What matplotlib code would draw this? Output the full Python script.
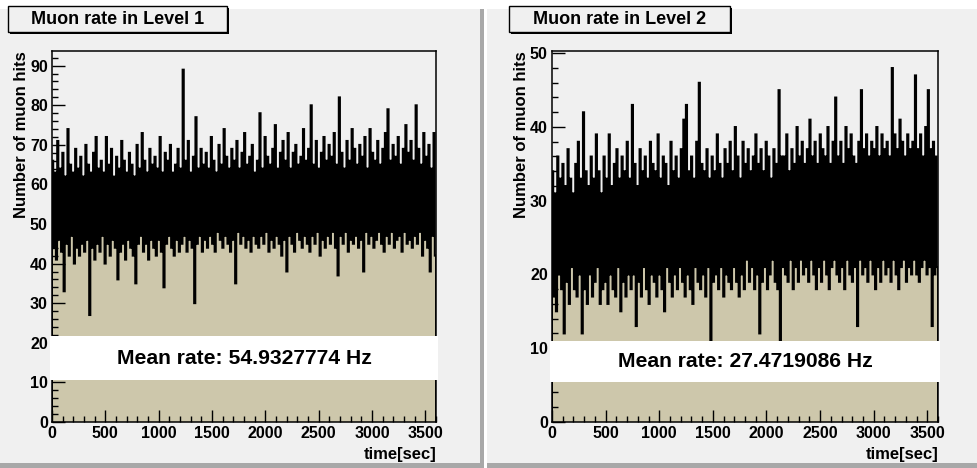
import matplotlib
matplotlib.use('Agg')
import matplotlib.pyplot as plt
from matplotlib.patches import Rectangle
from matplotlib.ticker import MultipleLocator
import numpy as np

plt.rcParams['font.family'] = ['Liberation Sans', 'DejaVu Sans']
plt.rcParams['font.weight'] = 'bold'

# ---------------- data (12 s bins) ----------------
T_MAX = 3600

level1_counts = [
    66, 44, 63, 41, 71, 46, 64, 43, 68, 33, 62, 45, 74, 42, 65, 47, 63, 40, 69, 44,
    64, 42, 67, 45, 62, 43, 70, 46, 65, 27, 63, 44, 68, 41, 72, 45, 64, 43, 66, 47,
    63, 40, 72, 45, 65, 42, 69, 46, 62, 44, 67, 36, 64, 43, 71, 45, 66, 41, 63, 46,
    68, 44, 65, 42, 62, 35, 70, 45, 64, 47, 73, 43, 66, 45, 63, 41, 69, 46, 65, 44,
    67, 42, 64, 46, 72, 43, 63, 34, 68, 45, 66, 47, 70, 44, 63, 42, 65, 46, 69, 43,
    64, 45, 89, 47, 66, 43, 71, 46, 63, 44, 67, 30, 77, 45, 64, 47, 69, 43, 65, 46,
    68, 44, 64, 47, 72, 45, 66, 43, 63, 48, 70, 46, 65, 44, 74, 47, 67, 45, 64, 43,
    69, 46, 66, 35, 71, 48, 64, 45, 68, 47, 73, 44, 65, 46, 67, 43, 70, 47, 63, 45,
    66, 44, 78, 47, 64, 45, 72, 48, 67, 43, 65, 46, 69, 44, 75, 47, 64, 45, 68, 42,
    71, 46, 66, 38, 73, 47, 64, 45, 68, 43, 70, 48, 65, 46, 67, 44, 74, 47, 66, 45,
    69, 43, 80, 47, 65, 45, 71, 48, 64, 42, 68, 46, 72, 44, 66, 47, 70, 45, 67, 48,
    73, 44, 65, 37, 82, 47, 68, 45, 64, 48, 71, 43, 66, 46, 74, 45, 69, 47, 65, 44,
    70, 46, 67, 38, 72, 48, 64, 45, 74, 47, 68, 44, 66, 46, 71, 48, 65, 45, 69, 43,
    73, 47, 79, 45, 66, 48, 70, 44, 67, 46, 72, 47, 65, 43, 69, 48, 75, 45, 68, 46,
    71, 44, 66, 47, 80, 45, 69, 48, 65, 42, 73, 46, 67, 44, 70, 38, 64, 47, 73, 42,
]

level2_counts = [
    34, 17, 31, 15, 36, 20, 33, 18, 35, 12, 32, 19, 37, 16, 33, 21, 31, 18, 35, 17,
    38, 20, 33, 12, 42, 18, 34, 16, 32, 20, 36, 17, 33, 19, 39, 21, 34, 16, 31, 18,
    36, 19, 33, 16, 39, 20, 32, 18, 35, 17, 37, 21, 33, 15, 36, 19, 34, 17, 38, 20,
    33, 18, 43, 20, 35, 13, 32, 19, 37, 17, 34, 21, 36, 18, 33, 16, 38, 20, 35, 19,
    34, 17, 39, 20, 33, 18, 36, 15, 35, 21, 32, 19, 38, 17, 34, 20, 36, 18, 33, 21,
    37, 19, 41, 17, 43, 20, 34, 18, 36, 16, 33, 21, 38, 19, 46, 18, 35, 20, 34, 17,
    37, 21, 33, 11, 36, 19, 34, 20, 39, 18, 35, 21, 33, 17, 37, 20, 35, 19, 38, 18,
    34, 21, 40, 19, 36, 17, 33, 20, 38, 18, 35, 22, 37, 19, 34, 21, 36, 18, 39, 20,
    35, 12, 37, 19, 34, 21, 38, 18, 36, 20, 33, 22, 37, 19, 35, 18, 45, 11, 36, 21,
    36, 20, 39, 19, 34, 22, 37, 18, 35, 21, 40, 19, 36, 22, 38, 20, 35, 21, 37, 19,
    41, 22, 36, 20, 38, 18, 35, 21, 39, 19, 37, 22, 36, 20, 40, 18, 35, 21, 38, 22,
    44, 20, 36, 19, 38, 21, 35, 18, 40, 22, 37, 20, 39, 19, 36, 21, 35, 13, 38, 22,
    45, 20, 37, 21, 39, 19, 36, 22, 38, 20, 37, 18, 40, 21, 36, 19, 39, 22, 37, 20,
    38, 21, 36, 19, 48, 22, 39, 20, 37, 18, 41, 21, 38, 22, 36, 19, 39, 21, 37, 20,
    38, 22, 47, 20, 37, 19, 39, 21, 36, 22, 40, 20, 45, 21, 37, 13, 38, 20, 36, 21,
]

titles = ["Muon rate in Level 1", "Muon rate in Level 2"]
mean_rates = ["54.9327774", "27.4719086"]
y_max = [93.7, 50.3]
x_label = "time[sec]"
y_label = "Number of muon hits"

# ---------------- styling ----------------
W, H = 977, 468
PANEL = '#f0f0f0'
TAN = '#cdc7ab'
SHADOW = '#a8a8a8'

fig = plt.figure(figsize=(W / 100, H / 100), dpi=100, facecolor=PANEL)


def frect(x0, y0, x1, y1, **kw):
    """rectangle in pixel coords (y from top)"""
    r = Rectangle((x0 / W, 1 - y1 / H), (x1 - x0) / W, (y1 - y0) / H,
                  transform=fig.transFigure, **kw)
    fig.patches.append(r)
    return r


# background decorations
frect(0, 0, W, 9, facecolor='white', edgecolor='none', zorder=0)
frect(480, 9, 484, 468, facecolor=SHADOW, edgecolor='none', zorder=0)
frect(484, 0, 487, 468, facecolor='white', edgecolor='none', zorder=0)
frect(0, 463, 484, 468, facecolor=SHADOW, edgecolor='none', zorder=0)
frect(487, 463, W, 468, facecolor=SHADOW, edgecolor='none', zorder=0)

panels = [
    dict(ax=(52, 51, 436, 422), box=(0.113, 0.119), title=(8, 6, 227, 32), ylab_x=22),
    dict(ax=(552, 51, 938, 422), box=(0.108, 0.110), title=(509, 6, 730, 32), ylab_x=522),
]
series = [level1_counts, level2_counts]

for i, p in enumerate(panels):
    x0, y0, x1, y1 = p['ax']
    ax = fig.add_axes([x0 / W, 1 - y1 / H, (x1 - x0) / W, (y1 - y0) / H])
    ax.set_facecolor(PANEL)
    counts = series[i]
    edges = np.linspace(0, T_MAX, len(counts) + 1)
    ax.stairs(counts, edges, fill=True, color=TAN, zorder=1)
    ln = ax.stairs(counts, edges, color='black', lw=1.35, zorder=2)
    ln.set_snap(False)
    ax.set_xlim(0, T_MAX)
    ax.set_ylim(0, y_max[i])
    ax.set_axisbelow(False)

    ax.xaxis.set_major_locator(MultipleLocator(500))
    ax.xaxis.set_minor_locator(MultipleLocator(100))
    ax.yaxis.set_major_locator(MultipleLocator(10))
    ax.yaxis.set_minor_locator(MultipleLocator(2))
    ax.tick_params(which='both', direction='in', top=False, right=False,
                   width=1, color='black')
    ax.tick_params(which='major', length=9, labelsize=11.5, pad=3)
    ax.tick_params(which='minor', length=4.5)
    for lab in ax.get_xticklabels() + ax.get_yticklabels():
        lab.set_fontweight('bold')
    for s in ax.spines.values():
        s.set_linewidth(1.1)
        s.set_color('black')

    # mean-rate band
    by, bh = p['box']
    ax.add_patch(Rectangle((-0.004, by), 1.008, bh, transform=ax.transAxes,
                           facecolor='white', edgecolor='none', zorder=5,
                           clip_on=False))
    ax.text(0.5, by + bh / 2, f"Mean rate: {mean_rates[i]} Hz",
            transform=ax.transAxes, ha='center', va='center',
            fontsize=15.2, fontweight='bold', zorder=6)

    # title box with shadow
    tx0, ty0, tx1, ty1 = p['title']
    frect(tx0 + 2, ty0 + 2, tx1 + 2, ty1 + 2, facecolor='black',
          edgecolor='none', zorder=3)
    frect(tx0, ty0, tx1, ty1, facecolor=PANEL, edgecolor='black',
          lw=1, zorder=4)
    fig.text((tx0 + tx1) / 2 / W, 1 - (ty0 + ty1) / 2 / H, titles[i],
             ha='center', va='center', fontsize=13, fontweight='bold', zorder=5)

    # axis titles
    fig.text(p['ylab_x'] / W, 1 - y0 / H, y_label, rotation=90,
             ha='center', va='top', fontsize=12, fontweight='bold')
    fig.text(x1 / W, 1 - 454 / H, x_label, ha='right', va='center',
             fontsize=12, fontweight='bold')

fig.savefig('out.png', dpi=100, facecolor=fig.get_facecolor())
